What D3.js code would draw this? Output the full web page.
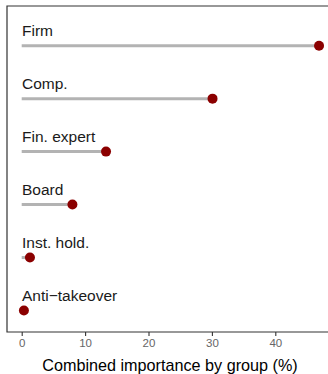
<!DOCTYPE html>
<html><head><meta charset="utf-8">
<script src="https://cdn.jsdelivr.net/npm/d3@7"></script>
<style>body{margin:0;background:#fff}svg{display:block;font-family:"Liberation Sans",Arial,sans-serif}</style>
</head><body>
<svg id="c" width="328" height="374"></svg>
<script>
const categories = ["Firm","Comp.","Fin. expert","Board","Inst. hold.","Anti\u2212takeover"];
const values = [46.9, 30.1, 13.3, 8.0, 1.3, 0.35];
const ticks = [0,10,20,30,40];
const xTitle = "Combined importance by group (%)";

const svg = d3.select("#c");
const panel = {left:7, top:6, bottom:332, right:340};
const x = d3.scaleLinear().domain([0,40]).range([21.7,275.3]);
const y = d3.scalePoint().domain(categories).range([45.7,310.5]);

svg.append("rect").attr("width",328).attr("height",374).attr("fill","#fff");
svg.append("path").attr("d",`M${panel.right},${panel.top}H${panel.left}V${panel.bottom}H${panel.right}`)
  .attr("fill","none").attr("stroke","#333").attr("stroke-width",1.2);

const data = categories.map((c,i)=>({c,v:values[i]}));
svg.selectAll("line.seg").data(data).join("line").attr("class","seg")
  .attr("x1",x(0)).attr("x2",d=>x(d.v)).attr("y1",d=>y(d.c)).attr("y2",d=>y(d.c))
  .attr("stroke","#b3b3b3").attr("stroke-width",3);
svg.selectAll("circle").data(data).join("circle")
  .attr("cx",d=>x(d.v)).attr("cy",d=>y(d.c)).attr("r",5).attr("fill","#8B0000");
svg.selectAll("text.lab").data(data).join("text").attr("class","lab")
  .attr("x",22).attr("y",d=>y(d.c)-9.5).attr("font-size",15.5).attr("fill","#1a1a1a").text(d=>d.c);

const axis = d3.axisBottom(x).tickValues(ticks).tickSize(4).tickPadding(3);
const g = svg.append("g").attr("transform",`translate(0,${panel.bottom})`).call(axis);
g.select(".domain").remove();
g.selectAll(".tick line").attr("stroke","#333").attr("stroke-width",1.1);
g.selectAll(".tick text").attr("fill","#666").attr("font-size",11.5).attr("font-family","Liberation Sans, Arial, sans-serif");

svg.append("text").attr("x",170).attr("y",371).attr("text-anchor","middle")
  .attr("font-size",16.2).attr("fill","#000").text(xTitle);
</script>
</body></html>
